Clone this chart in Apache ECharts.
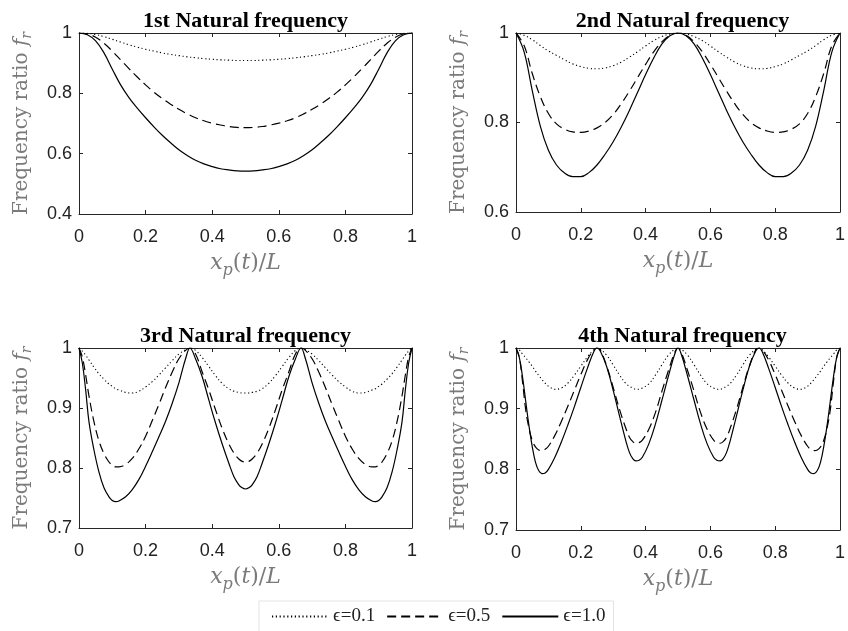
<!DOCTYPE html>
<html><head><meta charset="utf-8">
<script src="https://cdn.jsdelivr.net/npm/echarts@6/dist/echarts.min.js"></script>
<style>html,body{margin:0;padding:0;background:#fff}#c{width:848px;height:631px}</style>
</head><body><div id="c"></div>
<script>
// ---------- data ----------
const titles = ['1st Natural frequency','2nd Natural frequency','3rd Natural frequency','4th Natural frequency'];
const seriesNames = ['\u03f5=0.1','\u03f5=0.5','\u03f5=1.0'];
const xTicks = [0,0.2,0.4,0.6,0.8,1];
const yTicks1 = [0.4,0.6,0.8,1];
const yTicks2 = [0.6,0.8,1];
const yTicks3 = [0.7,0.8,0.9,1];
const yTicks4 = [0.7,0.8,0.9,1];

const X12 = [0,0.025,0.05,0.075,0.1,0.125,0.15,0.175,0.2,0.225,0.25,0.275,0.3,0.325,0.35,0.375,0.4,0.425,0.45,0.475,0.5,0.525,0.55,0.575,0.6,0.625,0.65,0.675,0.7,0.725,0.75,0.775,0.8,0.825,0.85,0.875,0.9,0.925,0.95,0.975,1];

const mode1_e01 = [1,.999,.995,.988,.979,.970,.961,.953,.946,.940,.934,.929,.925,.921,.918,.915,.913,.911,.910,.909,.909,.909,.910,.911,.913,.915,.918,.921,.925,.929,.934,.940,.946,.953,.961,.970,.979,.988,.995,.999,1];
const mode1_e05 = [1,.997,.986,.966,.940,.911,.882,.854,.828,.804,.783,.764,.747,.732,.719,.709,.701,.695,.690,.687,.686,.687,.690,.695,.701,.709,.719,.732,.747,.764,.783,.804,.828,.854,.882,.911,.940,.966,.986,.997,1];
const mode1_e10 = [1,.994,.974,.934,.880,.828,.786,.751,.719,.689,.661,.636,.613,.594,.578,.566,.557,.550,.546,.543,.542,.543,.546,.550,.557,.566,.578,.594,.613,.636,.661,.689,.719,.751,.786,.828,.880,.934,.974,.994,1];

const mode2_e01 = [1,.995,.985,.972,.960,.950,.940,.931,.925,.921,.920,.922,.927,.935,.946,.958,.971,.983,.992,.998,1,.998,.992,.983,.971,.958,.946,.935,.927,.922,.920,.921,.925,.931,.940,.950,.960,.972,.985,.995,1];
const mode2_e05 = [1,.972,.910,.858,.820,.797,.785,.779,.778,.781,.788,.800,.818,.842,.870,.900,.930,.958,.980,.995,1,.995,.980,.958,.930,.900,.870,.842,.818,.800,.788,.781,.778,.779,.785,.797,.820,.858,.910,.972,1];
const mode2_e10 = [1,.958,.872,.792,.738,.705,.687,.679,.679,.688,.705,.729,.757,.790,.827,.867,.907,.944,.975,.994,1,.994,.975,.944,.907,.867,.827,.790,.757,.729,.705,.688,.679,.679,.687,.705,.738,.792,.872,.958,1];

const X3 = [0,0.01,0.02,0.03,0.045,0.06,0.075,0.09,0.1,0.11,0.12,0.14,0.16,0.18,0.2,0.22,0.24,0.26,0.28,0.3,0.32,0.3333,
  0.35,0.37,0.39,0.41,0.43,0.45,0.465,0.48,0.49,0.5,0.51,0.52,0.535,0.55,0.57,0.59,0.61,0.63,0.65,0.6667,
  0.68,0.7,0.72,0.74,0.76,0.78,0.8,0.82,0.84,0.86,0.88,0.89,0.9,0.91,0.925,0.94,0.955,0.97,0.98,0.99,1];
const mode3_e01 = [1,.995,.988,.98,.968,.957,.948,.94,.936,.932,.93,.926,.925,.928,.935,.944,.955,.967,.979,.99,.997,1,
  .996,.984,.969,.954,.941,.932,.928,.926,.925,.925,.925,.926,.928,.932,.941,.954,.969,.984,.996,1,
  .997,.99,.979,.967,.955,.944,.935,.928,.925,.926,.93,.932,.936,.94,.948,.957,.968,.98,.988,.995,1];
const mode3_e05 = [1,.985,.955,.92,.877,.845,.824,.81,.805,.802,.802,.806,.816,.832,.853,.879,.906,.934,.96,.982,.996,1,
  .99,.96,.93,.897,.866,.84,.825,.815,.811,.81,.811,.815,.825,.84,.866,.897,.93,.96,.99,1,
  .996,.982,.96,.934,.906,.879,.853,.832,.816,.806,.802,.802,.805,.81,.824,.845,.877,.92,.955,.985,1];
const mode3_e10 = [1,.975,.93,.877,.83,.793,.767,.752,.746,.744,.745,.752,.764,.781,.803,.827,.852,.878,.908,.942,.982,1,
  .982,.952,.913,.875,.84,.808,.786,.772,.767,.765,.767,.772,.786,.808,.84,.875,.913,.952,.982,1,
  .982,.942,.908,.878,.852,.827,.803,.781,.764,.752,.745,.744,.746,.752,.767,.793,.83,.877,.93,.975,1];

const X4 = [0,0.01,0.02,0.03,0.04,0.05,0.06,0.07,0.08,0.09,0.1,0.12,0.14,0.16,0.18,0.2,0.22,0.24,0.25,
  0.26,0.28,0.3,0.32,0.34,0.35,0.36,0.37,0.38,0.39,0.41,0.43,0.45,0.47,0.49,0.5,
  0.51,0.53,0.55,0.57,0.59,0.61,0.62,0.63,0.64,0.65,0.66,0.68,0.7,0.72,0.74,0.75,
  0.76,0.78,0.8,0.82,0.84,0.86,0.88,0.9,0.91,0.92,0.93,0.94,0.95,0.96,0.97,0.98,0.99,1];
const mode4_e01 = [1,.997,.99,.984,.977,.97,.962,.955,.948,.942,.937,.932,.934,.942,.955,.97,.985,.997,1,
  .998,.988,.972,.955,.941,.937,.934,.932,.932,.934,.941,.955,.972,.988,.998,1,
  .998,.988,.972,.955,.941,.934,.932,.932,.934,.937,.941,.955,.972,.988,.998,1,
  .997,.985,.97,.955,.942,.934,.932,.937,.942,.948,.955,.962,.97,.977,.984,.99,.997,1];
const mode4_e05 = [1,.985,.945,.898,.868,.848,.837,.832,.831,.833,.838,.856,.879,.904,.93,.956,.98,.997,1,
  .997,.97,.935,.898,.866,.853,.846,.843,.844,.848,.866,.893,.928,.962,.993,1,
  .993,.962,.928,.893,.866,.848,.844,.843,.846,.853,.866,.898,.935,.97,.997,1,
  .997,.98,.956,.93,.904,.879,.856,.838,.833,.831,.832,.837,.848,.868,.898,.945,.985,1];
const mode4_e10 = [1,.985,.953,.912,.872,.838,.812,.798,.793,.794,.8,.82,.845,.873,.903,.935,.966,.994,1,
  .995,.969,.93,.887,.845,.828,.818,.814,.815,.82,.842,.874,.913,.953,.99,1,
  .99,.953,.913,.874,.842,.82,.815,.814,.818,.828,.845,.887,.93,.969,.995,1,
  .994,.966,.935,.903,.873,.845,.82,.8,.794,.793,.798,.812,.838,.872,.912,.953,.985,1];

// ---------- build ----------
const panels = [
  {x: X12, ys: [mode1_e01, mode1_e05, mode1_e10], yt: yTicks1},
  {x: X12, ys: [mode2_e01, mode2_e05, mode2_e10], yt: yTicks2},
  {x: X3,  ys: [mode3_e01, mode3_e05, mode3_e10], yt: yTicks3},
  {x: X4,  ys: [mode4_e01, mode4_e05, mode4_e10], yt: yTicks4}
];
const grids = [
  {left:79, top:33, width:333, height:181},
  {left:516, top:33, width:333, height:179},
  {left:79, top:348, width:333, height:180},
  {left:516, top:348, width:333, height:182}
];
const AX = '#262626';
const serif = "'Liberation Serif','DejaVu Serif',serif";
const nameSerif = "'DejaVu Serif','Liberation Serif',serif";
const sans = "'Liberation Sans',Arial,sans-serif";
const lineTypes = [[1.2,2.6],[9,5],'solid'];
const lineWidths = [1.1,1.2,1.2];
const NC = '#7a7a7a';

const xAxes = [], yAxes = [], series = [], titleArr = [];
panels.forEach((p, i) => {
  const g = grids[i];
  const ymin = p.yt[0], ymax = p.yt[p.yt.length-1];
  const yint = +(p.yt[1]-p.yt[0]).toFixed(3);
  const xint = +(xTicks[1]-xTicks[0]).toFixed(3);
  const common = {gridIndex:i, type:'value', splitLine:{show:false},
    axisLine:{show:true,onZero:false,lineStyle:{color:AX,width:1}},
    axisTick:{show:true,inside:true,length:4,lineStyle:{color:AX,width:1}}};
  xAxes.push(Object.assign({}, common, {position:'bottom', min:xTicks[0], max:xTicks[xTicks.length-1], interval:xint,
    axisLabel:{margin:14, fontFamily:sans, fontSize:18, color:'#222'},
    name:'{i|x}{s|p}{n|(}{i|t}{n|)/}{i|L}', nameLocation:'middle', nameGap:38,
    nameTextStyle:{color:NC, rich:{
      i:{fontFamily:nameSerif, fontStyle:'italic', fontSize:22, color:NC, lineHeight:23},
      n:{fontFamily:nameSerif, fontSize:22, color:NC, lineHeight:23},
      s:{fontFamily:nameSerif, fontStyle:'italic', fontSize:16, color:NC, lineHeight:16, padding:[15,0,0,0]}
    }}}));
  xAxes.push(Object.assign({}, common, {position:'top', min:xTicks[0], max:xTicks[xTicks.length-1], interval:xint,
    axisLabel:{show:false}}));
  yAxes.push(Object.assign({}, common, {position:'left', min:ymin, max:ymax, interval:yint,
    axisLabel:{margin:7, fontFamily:sans, fontSize:18, color:'#222'},
    name:'{n|Frequency ratio }{i|f}{s|r}', nameLocation:'middle', nameGap:47,
    nameTextStyle:{color:NC, rich:{
      i:{fontFamily:nameSerif, fontStyle:'italic', fontSize:20, color:NC, lineHeight:21},
      n:{fontFamily:nameSerif, fontSize:20, color:NC, lineHeight:21},
      s:{fontFamily:nameSerif, fontStyle:'italic', fontSize:14, color:NC, lineHeight:14, padding:[12,0,0,0]}
    }}}));
  yAxes.push(Object.assign({}, common, {position:'right', min:ymin, max:ymax, interval:yint,
    axisLabel:{show:false}}));
  p.ys.forEach((yy, k) => {
    series.push({type:'line', name:seriesNames[k], xAxisIndex:2*i, yAxisIndex:2*i,
      data:p.x.map((x,j)=>[x, yy[j]]), symbol:'none', smooth:0.4,
      lineStyle:{color:'#000', width:lineWidths[k], type:lineTypes[k]}, itemStyle:{color:'#000'},
      animation:false, clip:true});
  });
  titleArr.push({text:titles[i], left:g.left + g.width/2 - 5, top:i<2 ? 5 : 320, textAlign:'center',
    textStyle:{fontFamily:serif, fontWeight:'bold', fontSize:22, color:'#000'}});
});

const chart = echarts.init(document.getElementById('c'), null, {renderer:'canvas'});
chart.setOption({
  animation:false,
  backgroundColor:'#fff',
  title:titleArr,
  grid:grids.map(g=>Object.assign({containLabel:false}, g)),
  xAxis:xAxes, yAxis:yAxes, series:series,
  legend:{data:seriesNames, left:259, top:601, orient:'horizontal',
    itemWidth:56, itemHeight:12, itemGap:11,
    itemStyle:{opacity:0, borderWidth:0},
    padding:[6,8,8,12], borderColor:'#e3e3e3', borderWidth:1, backgroundColor:'#fff',
    textStyle:{fontFamily:serif, fontSize:19, color:'#222'}}
});
</script></body></html>
